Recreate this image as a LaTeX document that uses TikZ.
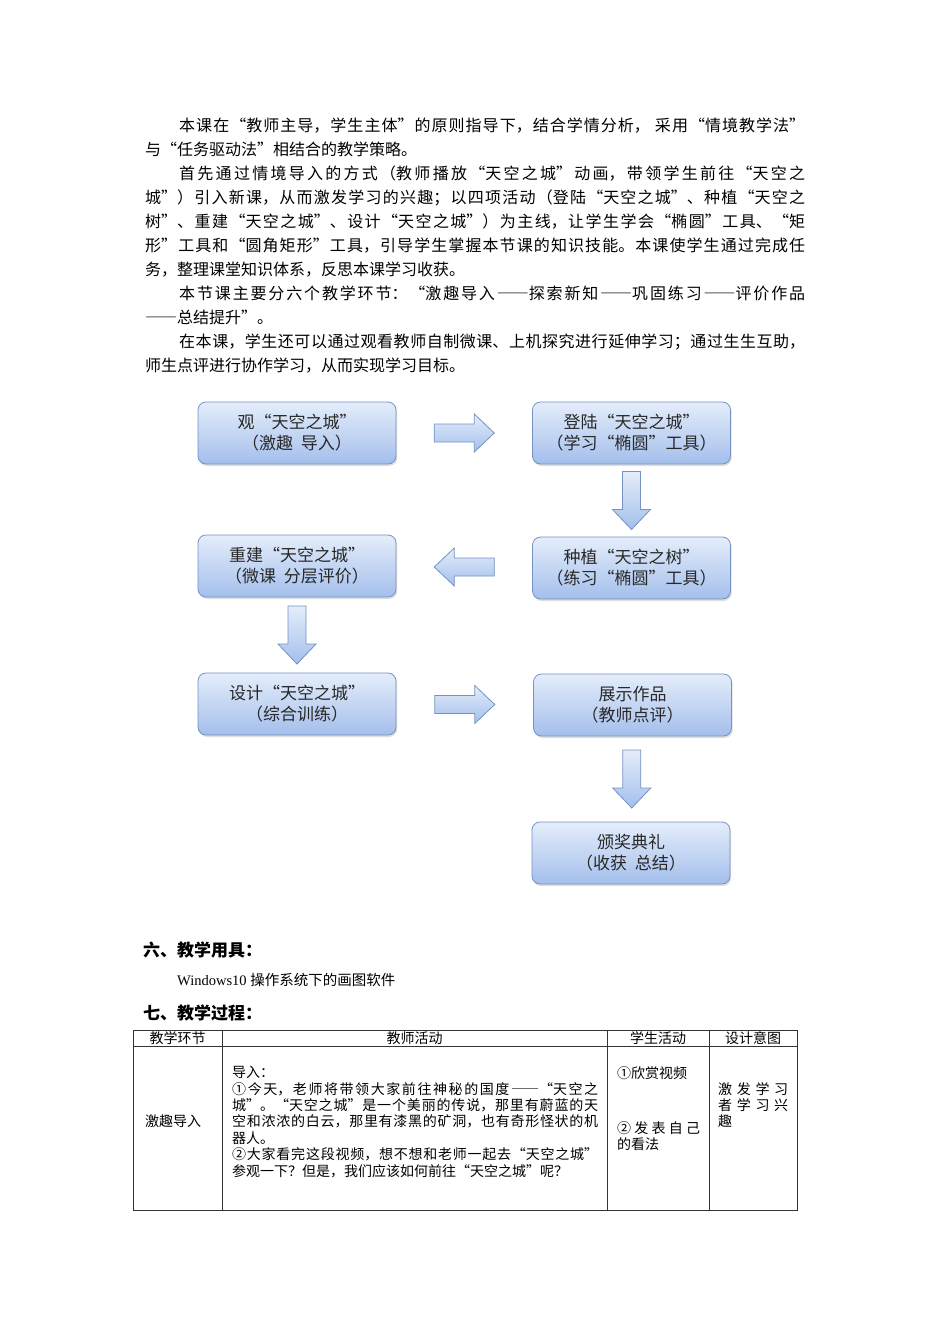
\documentclass[tikz,border=0pt]{standalone}
\usepackage{fontspec}
\setmainfont{Liberation Serif}
\newfontfamily\cjk[RawFeature=+fwid]{Noto Sans CJK SC}
\usetikzlibrary{calc,shadows}
\XeTeXlinebreaklocale "zh"
\XeTeXlinebreakskip=0pt plus 10pt
\definecolor{boxtop}{RGB}{228,237,250}
\definecolor{boxbot}{RGB}{164,191,236}
\definecolor{boxline}{RGB}{118,146,196}
\definecolor{boxtext}{RGB}{40,40,40}
\begin{document}
\begin{tikzpicture}[x=1pt,y=-1pt,every node/.style={inner sep=0pt},
  bodytext/.style={anchor=north west,align=justify,font=\cjk\fontsize{16}{24}\selectfont},
  stagebox/.style={draw=boxline,line width=0.8pt,rounded corners=8pt,top color=boxtop,bottom color=boxbot,
    minimum width=198pt,minimum height=62pt,align=center,text=boxtext,font=\cjk\fontsize{17}{21}\selectfont,
    drop shadow={shadow xshift=1.2pt,shadow yshift=-2pt,opacity=0.25}},
  blockarrow/.style={draw=boxline,line width=0.8pt,top color=boxtop,bottom color=boxbot},
  headline/.style={anchor=west,font=\cjk\bfseries\fontsize{17}{20}\selectfont},
  cellbody/.style={anchor=north west,align=justify,font=\cjk\fontsize{14}{16.4}\selectfont},
  celltext/.style={font=\cjk\fontsize{14}{16.4}\selectfont},
  gridline/.style={line width=0.9pt,black!80}]
  \fill[white] (0,0) rectangle (950,1344);
  \useasboundingbox (0,0) rectangle (950,1344);

  \node[bodytext,text width=660pt] (intro) at (145,118) {\parindent=34pt\hspace*{34pt}%
    本课在“教师主导，学生主体”的原则指导下，结合学情分析，\hspace{5pt}采用“情境教学法”\linebreak
    与“任务驱动法”相结合的教学策略。\par
    首先通过情境导入的方式（教师播放“天空之城”动画，带领学生前往“天空之\linebreak
    城”）引入新课，从而激发学习的兴趣；以四项活动（登陆“天空之城”、种植“天空之\linebreak
    树”、重建“天空之城”、设计“天空之城”）为主线，让学生学会“椭圆”工具、“矩\linebreak
    形”工具和“圆角矩形”工具，引导学生掌握本节课的知识技能。本课使学生通过完成任\linebreak
    务，整理课堂知识体系，反思本课学习收获。\par
    本节课主要分六个教学环节：“激趣导入——探索新知——巩固练习——评价作品\linebreak
    ——总结提升”。\par
    在本课，学生还可以通过观看教师自制微课、上机探究进行延伸学习；通过生生互助，\linebreak
    师生点评进行协作学习，从而实现学习目标。};

  \node[stagebox] (s1) at (297,433) {观“天空之城”\\（激趣\hspace{8pt}导入）};
  \node[stagebox] (s2) at (631.5,433) {登陆“天空之城”\\（学习“椭圆”工具）};
  \node[stagebox] (s3) at (631.5,568) {种植“天空之树”\\（练习“椭圆”工具）};
  \node[stagebox] (s4) at (297,566) {重建“天空之城”\\（微课\hspace{8pt}分层评价）};
  \node[stagebox] (s5) at (297,704) {设计“天空之城”\\（综合训练）};
  \node[stagebox] (s6) at (632.5,705) {展示作品\\（教师点评）};
  \node[stagebox] (s7) at (631,853) {颁奖典礼\\（收获\hspace{8pt}总结）};

  \coordinate (a1) at ($(s1.east)!0.5!(s2.west)$);
  \coordinate (a2) at ($(s2.south)!0.5!(s3.north)$);
  \coordinate (a3) at ($(s3.west)!0.5!(s4.east)$);
  \coordinate (a4) at ($(s4.south)!0.5!(s5.north)$);
  \coordinate (a5) at ($(s5.east)!0.5!(s6.west)$);
  \coordinate (a6) at ($(s6.south)!0.5!(s7.north)$);
  \foreach \a in {a1,a5}
    \draw[blockarrow,shift={(\a)}] (-30,-9) -- (10,-9) -- (10,-19) -- (30,0) -- (10,19) -- (10,9) -- (-30,9) -- cycle;
  \draw[blockarrow,shift={(a3)}] (30,-9) -- (-10,-9) -- (-10,-19) -- (-30,0) -- (-10,19) -- (-10,9) -- (30,9) -- cycle;
  \foreach \a in {a2,a4,a6}
    \draw[blockarrow,shift={(\a)}] (-9,-29) -- (-9,9) -- (-19,9) -- (0,29) -- (19,9) -- (9,9) -- (9,-29) -- cycle;

  \node[headline] (h6) at (143,950) {六、教学用具：};
  \node[anchor=west,font=\fontsize{14.5}{17}\selectfont] (tool) at (177,980) {Windows10 {\cjk 操作系统下的画图软件}};
  \node[headline] (h7) at (143,1013) {七、教学过程：};

  \draw[gridline] (133,1030) rectangle (797,1210);
  \draw[gridline] (133,1046) -- (797,1046);
  \foreach \x in {222,607,709}
    \draw[gridline] (\x,1030) -- (\x,1210);
  \node[celltext] (t1) at (177.5,1038) {教学环节};
  \node[celltext] (t2) at (414.5,1038) {教师活动};
  \node[celltext] (t3) at (658,1038) {学生活动};
  \node[celltext] (t4) at (753,1038) {设计意图};
  \node[celltext,anchor=west] (c1) at (145,1121) {激趣导入};
  \node[cellbody,text width=366pt] (c2) at (232,1066) {导入：\par
    ①今天，老师将带领大家前往神秘的国度——“天空之\linebreak
    城”。“天空之城”是一个美丽的传说，那里有蔚蓝的天\linebreak
    空和浓浓的白云，那里有漆黑的矿洞，也有奇形怪状的机\linebreak
    器人。\par
    ②大家看完这段视频，想不想和老师一起去“天空之城”\linebreak
    参观一下？但是，我们应该如何前往“天空之城”呢？};
  \node[celltext,anchor=west] (c3) at (617,1073) {①欣赏视频};
  \node[cellbody,text width=83pt] (c3b) at (617,1121) {②发表自己\linebreak 的看法};
  \node[cellbody,text width=70pt] (c4) at (718,1082) {激发学习\linebreak 者学习兴\linebreak 趣};
\end{tikzpicture}
\end{document}
